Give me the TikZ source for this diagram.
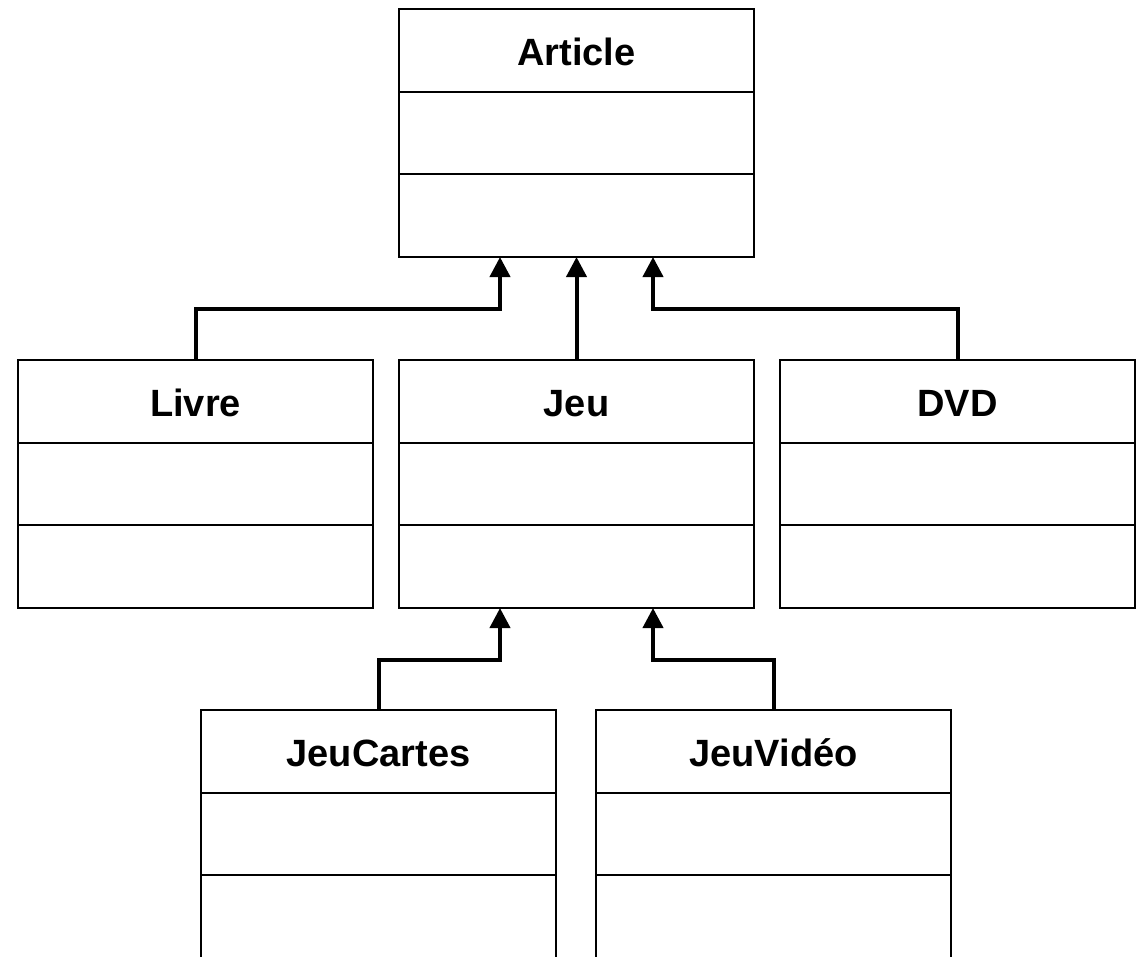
\documentclass[tikz,border=0pt]{standalone}
\usepackage{fontspec}
\setmainfont{Liberation Sans}
\usetikzlibrary{arrows.meta}
\tikzset{
  classbox/.style={draw=black, line width=2pt, fill=white, minimum width=355pt, minimum height=248pt, inner sep=0pt, outer sep=0pt, anchor=north},
  classtitle/.style={font=\fontsize{38}{40}\selectfont\bfseries, anchor=base, inner sep=0pt},
  divider/.style={draw=black, line width=2pt},
  inh/.style={draw=black, line width=4pt, -{Triangle[length=20pt,width=20pt]}},
}
\newcommand\umlclass[4]{%
  \node[classbox] (#1) at (#3,#4) {};
  \node[classtitle] (#1-t) at ([yshift=-56pt]#1.north) {#2};
  \draw[divider] ([yshift=-83pt]#1.north west) -- ([yshift=-83pt]#1.north east);
  \draw[divider] ([yshift=-165pt]#1.north west) -- ([yshift=-165pt]#1.north east);
}
\begin{document}
\begin{tikzpicture}[x=1pt,y=-1pt]
\useasboundingbox (0,0) rectangle (1142,956);
\clip (0,0) rectangle (1142,956);
\umlclass{article}{Article}{576.5}{9}
\umlclass{livre}{Livre}{195.5}{360}
\umlclass{jeu}{Jeu}{576.5}{360}
\umlclass{dvd}{DVD}{957.5}{360}
\umlclass{jeucartes}{JeuCartes}{378.5}{710}
\umlclass{jeuvideo}{JeuVidéo}{773.5}{710}
% inheritance connectors
\draw[inh] (livre.north) |- ([xshift=-76.5pt,yshift=-52pt]article.south) -- ([xshift=-76.5pt]article.south);
\draw[inh] (jeu.north) -- (article.south);
\draw[inh] (dvd.north) |- ([xshift=76.5pt,yshift=-52pt]article.south) -- ([xshift=76.5pt]article.south);
\draw[inh] (jeucartes.north) |- ([xshift=-76.5pt,yshift=-52pt]jeu.south) -- ([xshift=-76.5pt]jeu.south);
\draw[inh] (jeuvideo.north) |- ([xshift=76.5pt,yshift=-52pt]jeu.south) -- ([xshift=76.5pt]jeu.south);
\end{tikzpicture}
\end{document}
